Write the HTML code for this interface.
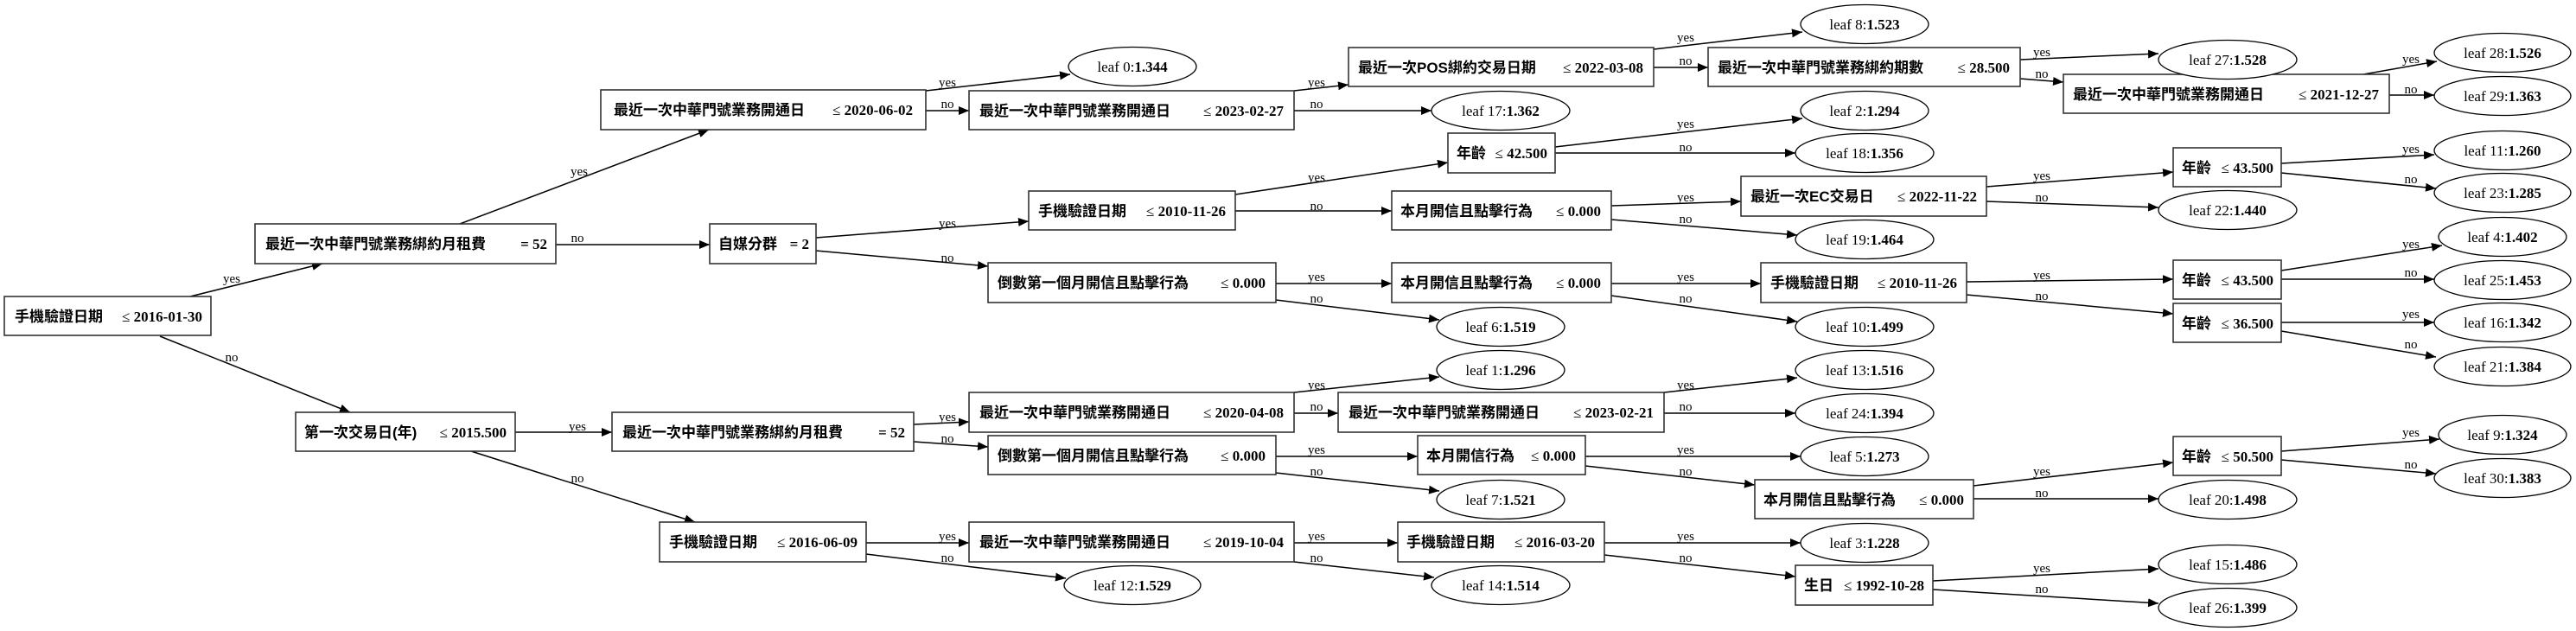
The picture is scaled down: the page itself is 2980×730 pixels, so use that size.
<!DOCTYPE html>
<html><head><meta charset="utf-8"><style>
html,body{margin:0;padding:0;background:#fff;}
svg{display:block;}
.b{fill:#fff;stroke:#333;stroke-width:1.6;}
.l{fill:#fff;stroke:#000;stroke-width:1.3;}
.e{stroke:#000;stroke-width:1.5;fill:none;marker-end:url(#ah);}
.cj{font-family:"Liberation Sans","Noto Sans CJK TC",sans-serif;font-weight:bold;font-size:17px;}
.v{font-family:"Liberation Serif","Noto Serif CJK SC",serif;font-size:17px;text-anchor:end;}
.v tspan.n{font-weight:bold;}
.lf{font-family:"Liberation Serif",serif;font-size:17px;text-anchor:middle;}
.lf tspan{font-weight:bold;}
.el{font-family:"Liberation Serif",serif;font-size:15px;text-anchor:middle;}
</style></head><body>
<svg width="2980" height="730" viewBox="0 0 2980 730" xmlns="http://www.w3.org/2000/svg">
<defs><marker id="ah" markerWidth="13" markerHeight="10" refX="12" refY="5" orient="auto" markerUnits="userSpaceOnUse"><path d="M0,0 L12,5 L0,10 z" fill="#000"/></marker></defs>

<!-- edges -->
<g>
<line class="e" x1="220" y1="343" x2="373" y2="305"/>
<line class="e" x1="185" y1="389" x2="405" y2="477"/>
<line class="e" x1="532" y1="259" x2="820" y2="150"/>
<line class="e" x1="643" y1="283" x2="821" y2="283"/>
<line class="e" x1="1071" y1="105" x2="1238" y2="86"/>
<line class="e" x1="1071" y1="128" x2="1121" y2="128"/>
<line class="e" x1="944" y1="275" x2="1190" y2="256"/>
<line class="e" x1="944" y1="290" x2="1143" y2="308"/>
<line class="e" x1="596" y1="500" x2="708" y2="500"/>
<line class="e" x1="545" y1="522" x2="804" y2="604"/>
<line class="e" x1="1057" y1="491" x2="1121" y2="488"/>
<line class="e" x1="1057" y1="511" x2="1143" y2="517"/>
<line class="e" x1="1002" y1="628" x2="1121" y2="628"/>
<line class="e" x1="1002" y1="641" x2="1233" y2="669"/>
<line class="e" x1="1497" y1="105" x2="1560" y2="98"/>
<line class="e" x1="1497" y1="128" x2="1656" y2="128"/>
<line class="e" x1="1913" y1="57" x2="2085" y2="37"/>
<line class="e" x1="1913" y1="78" x2="1976" y2="78"/>
<line class="e" x1="2337" y1="69" x2="2497" y2="62"/>
<line class="e" x1="2337" y1="91" x2="2387" y2="95"/>
<line class="e" x1="2734" y1="86" x2="2819" y2="71"/>
<line class="e" x1="2764" y1="110" x2="2816" y2="110"/>
<line class="e" x1="1429" y1="225" x2="1675" y2="188"/>
<line class="e" x1="1429" y1="244" x2="1610" y2="244"/>
<line class="e" x1="1799" y1="170" x2="2085" y2="137"/>
<line class="e" x1="1799" y1="177" x2="2077" y2="177"/>
<line class="e" x1="1864" y1="238" x2="2014" y2="233"/>
<line class="e" x1="1864" y1="254" x2="2079" y2="272"/>
<line class="e" x1="2298" y1="216" x2="2514" y2="199"/>
<line class="e" x1="2298" y1="233" x2="2497" y2="240"/>
<line class="e" x1="2639" y1="189" x2="2816" y2="179"/>
<line class="e" x1="2639" y1="200" x2="2818" y2="218"/>
<line class="e" x1="1476" y1="328" x2="1610" y2="328"/>
<line class="e" x1="1476" y1="347" x2="1665" y2="370"/>
<line class="e" x1="1864" y1="328" x2="2037" y2="328"/>
<line class="e" x1="1864" y1="342" x2="2079" y2="372"/>
<line class="e" x1="2275" y1="326" x2="2514" y2="323"/>
<line class="e" x1="2275" y1="341" x2="2514" y2="363"/>
<line class="e" x1="2639" y1="313" x2="2825" y2="284"/>
<line class="e" x1="2639" y1="323" x2="2816" y2="323"/>
<line class="e" x1="2639" y1="373" x2="2816" y2="373"/>
<line class="e" x1="2639" y1="383" x2="2818" y2="413"/>
<line class="e" x1="1497" y1="454" x2="1665" y2="436"/>
<line class="e" x1="1497" y1="478" x2="1548" y2="478"/>
<line class="e" x1="1925" y1="454" x2="2079" y2="437"/>
<line class="e" x1="1925" y1="478" x2="2077" y2="478"/>
<line class="e" x1="1476" y1="528" x2="1640" y2="528"/>
<line class="e" x1="1476" y1="547" x2="1665" y2="568"/>
<line class="e" x1="1834" y1="528" x2="2083" y2="528"/>
<line class="e" x1="1834" y1="539" x2="2030" y2="561"/>
<line class="e" x1="2283" y1="562" x2="2514" y2="535"/>
<line class="e" x1="2283" y1="577" x2="2497" y2="577"/>
<line class="e" x1="2639" y1="522" x2="2822" y2="508"/>
<line class="e" x1="2639" y1="532" x2="2818" y2="548"/>
<line class="e" x1="1497" y1="628" x2="1617" y2="628"/>
<line class="e" x1="1497" y1="650" x2="1659" y2="668"/>
<line class="e" x1="1856" y1="628" x2="2083" y2="628"/>
<line class="e" x1="1856" y1="642" x2="2077" y2="667"/>
<line class="e" x1="2236" y1="672" x2="2497" y2="658"/>
<line class="e" x1="2236" y1="682" x2="2497" y2="698"/>
</g>

<!-- edge labels -->
<g class="el">
<text x="268" y="327">yes</text><text x="268" y="418">no</text>
<text x="670" y="203">yes</text><text x="668" y="280">no</text>
<text x="1096" y="100">yes</text><text x="1096" y="125">no</text>
<text x="1096" y="263">yes</text><text x="1096" y="303">no</text>
<text x="668" y="498">yes</text><text x="668" y="558">no</text>
<text x="1096" y="487">yes</text><text x="1096" y="512">no</text>
<text x="1096" y="625">yes</text><text x="1096" y="650">no</text>
<text x="1523" y="100">yes</text><text x="1523" y="125">no</text>
<text x="1950" y="48">yes</text><text x="1950" y="75">no</text>
<text x="2362" y="65">yes</text><text x="2362" y="90">no</text>
<text x="2789" y="73">yes</text><text x="2789" y="108">no</text>
<text x="1523" y="210">yes</text><text x="1523" y="243">no</text>
<text x="1950" y="148">yes</text><text x="1950" y="175">no</text>
<text x="1950" y="233">yes</text><text x="1950" y="258">no</text>
<text x="2362" y="208">yes</text><text x="2362" y="233">no</text>
<text x="2789" y="177">yes</text><text x="2789" y="212">no</text>
<text x="1523" y="325">yes</text><text x="1523" y="350">no</text>
<text x="1950" y="325">yes</text><text x="1950" y="350">no</text>
<text x="2362" y="323">yes</text><text x="2362" y="347">no</text>
<text x="2789" y="287">yes</text><text x="2789" y="320">no</text>
<text x="2789" y="368">yes</text><text x="2789" y="403">no</text>
<text x="1523" y="450">yes</text><text x="1523" y="475">no</text>
<text x="1950" y="450">yes</text><text x="1950" y="475">no</text>
<text x="1523" y="525">yes</text><text x="1523" y="550">no</text>
<text x="1950" y="525">yes</text><text x="1950" y="550">no</text>
<text x="2362" y="550">yes</text><text x="2362" y="575">no</text>
<text x="2789" y="505">yes</text><text x="2789" y="542">no</text>
<text x="1523" y="625">yes</text><text x="1523" y="650">no</text>
<text x="1950" y="625">yes</text><text x="1950" y="650">no</text>
<text x="2362" y="662">yes</text><text x="2362" y="686">no</text>
</g>

<!-- boxes -->
<g>
<rect class="b" x="5" y="343" width="239" height="45"/><text class="cj" x="17" y="372">手機驗證日期</text><text class="v" x="234" y="372">≤ <tspan class="n">2016-01-30</tspan></text>
<rect class="b" x="295" y="259" width="348" height="46"/><text class="cj" x="307" y="288">最近一次中華門號業務綁約月租費</text><text class="v" x="633" y="288"><tspan class="n">= 52</tspan></text>
<rect class="b" x="695" y="104" width="376" height="46"/><text class="cj" x="710" y="133">最近一次中華門號業務開通日</text><text class="v" x="1056" y="133">≤ <tspan class="n">2020-06-02</tspan></text>
<rect class="b" x="821" y="259" width="123" height="46"/><text class="cj" x="831" y="288">自媒分群</text><text class="v" x="936" y="288"><tspan class="n">= 2</tspan></text>
<rect class="b" x="342" y="477" width="254" height="45"/><text class="cj" x="352" y="506">第一次交易日(年)</text><text class="v" x="586" y="506">≤ <tspan class="n">2015.500</tspan></text>
<rect class="b" x="708" y="477" width="349" height="45"/><text class="cj" x="720" y="506">最近一次中華門號業務綁約月租費</text><text class="v" x="1047" y="506"><tspan class="n">= 52</tspan></text>
<rect class="b" x="763" y="604" width="239" height="46"/><text class="cj" x="774" y="633">手機驗證日期</text><text class="v" x="992" y="633">≤ <tspan class="n">2016-06-09</tspan></text>
<rect class="b" x="1121" y="105" width="376" height="45"/><text class="cj" x="1133" y="134">最近一次中華門號業務開通日</text><text class="v" x="1485" y="134">≤ <tspan class="n">2023-02-27</tspan></text>
<rect class="b" x="1560" y="55" width="353" height="45"/><text class="cj" x="1571" y="84">最近一次POS綁約交易日期</text><text class="v" x="1901" y="84">≤ <tspan class="n">2022-03-08</tspan></text>
<rect class="b" x="1976" y="55" width="361" height="45"/><text class="cj" x="1987" y="84">最近一次中華門號業務綁約期數</text><text class="v" x="2325" y="84">≤ <tspan class="n">28.500</tspan></text>
<rect class="b" x="1675" y="154" width="124" height="46"/><text class="cj" x="1685" y="183">年齡</text><text class="v" x="1790" y="183">≤ <tspan class="n">42.500</tspan></text>
<rect class="b" x="1190" y="221" width="239" height="45"/><text class="cj" x="1201" y="250">手機驗證日期</text><text class="v" x="1418" y="250">≤ <tspan class="n">2010-11-26</tspan></text>
<rect class="b" x="1610" y="221" width="254" height="45"/><text class="cj" x="1620" y="250">本月開信且點擊行為</text><text class="v" x="1852" y="250">≤ <tspan class="n">0.000</tspan></text>
<rect class="b" x="1143" y="304" width="333" height="46"/><text class="cj" x="1154" y="333">倒數第一個月開信且點擊行為</text><text class="v" x="1464" y="333">≤ <tspan class="n">0.000</tspan></text>
<rect class="b" x="1610" y="304" width="254" height="46"/><text class="cj" x="1620" y="333">本月開信且點擊行為</text><text class="v" x="1852" y="333">≤ <tspan class="n">0.000</tspan></text>
<rect class="b" x="1121" y="454" width="376" height="46"/><text class="cj" x="1133" y="483">最近一次中華門號業務開通日</text><text class="v" x="1485" y="483">≤ <tspan class="n">2020-04-08</tspan></text>
<rect class="b" x="1143" y="504" width="333" height="45"/><text class="cj" x="1154" y="533">倒數第一個月開信且點擊行為</text><text class="v" x="1464" y="533">≤ <tspan class="n">0.000</tspan></text>
<rect class="b" x="1548" y="454" width="377" height="46"/><text class="cj" x="1560" y="483">最近一次中華門號業務開通日</text><text class="v" x="1913" y="483">≤ <tspan class="n">2023-02-21</tspan></text>
<rect class="b" x="1640" y="504" width="194" height="45"/><text class="cj" x="1650" y="533">本月開信行為</text><text class="v" x="1823" y="533">≤ <tspan class="n">0.000</tspan></text>
<rect class="b" x="1121" y="604" width="376" height="46"/><text class="cj" x="1133" y="633">最近一次中華門號業務開通日</text><text class="v" x="1485" y="633">≤ <tspan class="n">2019-10-04</tspan></text>
<rect class="b" x="1617" y="604" width="239" height="46"/><text class="cj" x="1627" y="633">手機驗證日期</text><text class="v" x="1845" y="633">≤ <tspan class="n">2016-03-20</tspan></text>
<rect class="b" x="2387" y="86" width="377" height="45"/><text class="cj" x="2398" y="115">最近一次中華門號業務開通日</text><text class="v" x="2752" y="115">≤ <tspan class="n">2021-12-27</tspan></text>
<rect class="b" x="2014" y="204" width="284" height="46"/><text class="cj" x="2025" y="233">最近一次EC交易日</text><text class="v" x="2287" y="233">≤ <tspan class="n">2022-11-22</tspan></text>
<rect class="b" x="2514" y="171" width="125" height="45"/><text class="cj" x="2524" y="200">年齡</text><text class="v" x="2630" y="200">≤ <tspan class="n">43.500</tspan></text>
<rect class="b" x="2037" y="304" width="238" height="46"/><text class="cj" x="2048" y="333">手機驗證日期</text><text class="v" x="2264" y="333">≤ <tspan class="n">2010-11-26</tspan></text>
<rect class="b" x="2514" y="301" width="125" height="45"/><text class="cj" x="2524" y="330">年齡</text><text class="v" x="2630" y="330">≤ <tspan class="n">43.500</tspan></text>
<rect class="b" x="2514" y="351" width="125" height="45"/><text class="cj" x="2524" y="380">年齡</text><text class="v" x="2630" y="380">≤ <tspan class="n">36.500</tspan></text>
<rect class="b" x="2030" y="555" width="253" height="45"/><text class="cj" x="2040" y="584">本月開信且點擊行為</text><text class="v" x="2272" y="584">≤ <tspan class="n">0.000</tspan></text>
<rect class="b" x="2514" y="505" width="125" height="45"/><text class="cj" x="2524" y="534">年齡</text><text class="v" x="2630" y="534">≤ <tspan class="n">50.500</tspan></text>
<rect class="b" x="2077" y="654" width="159" height="46"/><text class="cj" x="2087" y="683">生日</text><text class="v" x="2226" y="683">≤ <tspan class="n">1992-10-28</tspan></text>
</g>

<!-- leaves -->
<g>
<ellipse class="l" cx="1310" cy="77" rx="74" ry="22.5"/><text class="lf" x="1310" y="83">leaf 0:<tspan>1.344</tspan></text>
<ellipse class="l" cx="1736" cy="128" rx="80" ry="22.5"/><text class="lf" x="1736" y="134">leaf 17:<tspan>1.362</tspan></text>
<ellipse class="l" cx="2157" cy="28" rx="74" ry="22.5"/><text class="lf" x="2157" y="34">leaf 8:<tspan>1.523</tspan></text>
<ellipse class="l" cx="2577" cy="69" rx="80" ry="22.5"/><text class="lf" x="2577" y="75">leaf 27:<tspan>1.528</tspan></text>
<ellipse class="l" cx="2895" cy="61" rx="79" ry="22.5"/><text class="lf" x="2895" y="67">leaf 28:<tspan>1.526</tspan></text>
<ellipse class="l" cx="2895" cy="111" rx="79" ry="22.5"/><text class="lf" x="2895" y="117">leaf 29:<tspan>1.363</tspan></text>
<ellipse class="l" cx="2157" cy="128" rx="74" ry="22.5"/><text class="lf" x="2157" y="134">leaf 2:<tspan>1.294</tspan></text>
<ellipse class="l" cx="2157" cy="177" rx="80" ry="22.5"/><text class="lf" x="2157" y="183">leaf 18:<tspan>1.356</tspan></text>
<ellipse class="l" cx="2895" cy="174" rx="79" ry="22.5"/><text class="lf" x="2895" y="180">leaf 11:<tspan>1.260</tspan></text>
<ellipse class="l" cx="2895" cy="223" rx="79" ry="22.5"/><text class="lf" x="2895" y="229">leaf 23:<tspan>1.285</tspan></text>
<ellipse class="l" cx="2577" cy="243" rx="80" ry="22.5"/><text class="lf" x="2577" y="249">leaf 22:<tspan>1.440</tspan></text>
<ellipse class="l" cx="2157" cy="277" rx="80" ry="22.5"/><text class="lf" x="2157" y="283">leaf 19:<tspan>1.464</tspan></text>
<ellipse class="l" cx="2895" cy="274" rx="74" ry="22.5"/><text class="lf" x="2895" y="280">leaf 4:<tspan>1.402</tspan></text>
<ellipse class="l" cx="2895" cy="324" rx="79" ry="22.5"/><text class="lf" x="2895" y="330">leaf 25:<tspan>1.453</tspan></text>
<ellipse class="l" cx="1736" cy="378" rx="74" ry="22.5"/><text class="lf" x="1736" y="384">leaf 6:<tspan>1.519</tspan></text>
<ellipse class="l" cx="2157" cy="378" rx="80" ry="22.5"/><text class="lf" x="2157" y="384">leaf 10:<tspan>1.499</tspan></text>
<ellipse class="l" cx="2895" cy="373" rx="79" ry="22.5"/><text class="lf" x="2895" y="379">leaf 16:<tspan>1.342</tspan></text>
<ellipse class="l" cx="2895" cy="424" rx="79" ry="22.5"/><text class="lf" x="2895" y="430">leaf 21:<tspan>1.384</tspan></text>
<ellipse class="l" cx="1736" cy="428" rx="74" ry="22.5"/><text class="lf" x="1736" y="434">leaf 1:<tspan>1.296</tspan></text>
<ellipse class="l" cx="2157" cy="428" rx="80" ry="22.5"/><text class="lf" x="2157" y="434">leaf 13:<tspan>1.516</tspan></text>
<ellipse class="l" cx="2157" cy="478" rx="80" ry="22.5"/><text class="lf" x="2157" y="484">leaf 24:<tspan>1.394</tspan></text>
<ellipse class="l" cx="2157" cy="528" rx="74" ry="22.5"/><text class="lf" x="2157" y="534">leaf 5:<tspan>1.273</tspan></text>
<ellipse class="l" cx="2895" cy="503" rx="74" ry="22.5"/><text class="lf" x="2895" y="509">leaf 9:<tspan>1.324</tspan></text>
<ellipse class="l" cx="2895" cy="553" rx="79" ry="22.5"/><text class="lf" x="2895" y="559">leaf 30:<tspan>1.383</tspan></text>
<ellipse class="l" cx="1736" cy="578" rx="74" ry="22.5"/><text class="lf" x="1736" y="584">leaf 7:<tspan>1.521</tspan></text>
<ellipse class="l" cx="2577" cy="578" rx="80" ry="22.5"/><text class="lf" x="2577" y="584">leaf 20:<tspan>1.498</tspan></text>
<ellipse class="l" cx="2157" cy="628" rx="74" ry="22.5"/><text class="lf" x="2157" y="634">leaf 3:<tspan>1.228</tspan></text>
<ellipse class="l" cx="1310" cy="677" rx="79" ry="22.5"/><text class="lf" x="1310" y="683">leaf 12:<tspan>1.529</tspan></text>
<ellipse class="l" cx="1736" cy="677" rx="80" ry="22.5"/><text class="lf" x="1736" y="683">leaf 14:<tspan>1.514</tspan></text>
<ellipse class="l" cx="2577" cy="653" rx="80" ry="22.5"/><text class="lf" x="2577" y="659">leaf 15:<tspan>1.486</tspan></text>
<ellipse class="l" cx="2577" cy="703" rx="80" ry="22.5"/><text class="lf" x="2577" y="709">leaf 26:<tspan>1.399</tspan></text>
</g>
</svg>
</body></html>
